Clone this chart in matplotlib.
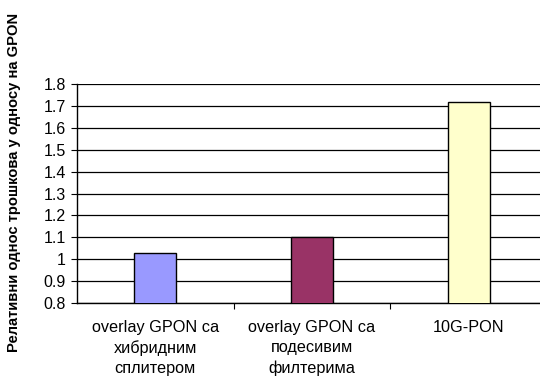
import matplotlib.pyplot as plt

plt.rcParams['font.family'] = ['Liberation Sans', 'DejaVu Sans']

categories = ["overlay GPON са\nхибридним\nсплитером",
              "overlay GPON са\nподесивим\nфилтерима",
              "10G-PON"]
values = [1.03, 1.10, 1.72]
colors = ["#9999FF", "#993366", "#FFFFCC"]
yticks = [0.8, 0.9, 1.0, 1.1, 1.2, 1.3, 1.4, 1.5, 1.6, 1.7, 1.8]
ytick_labels = ["0.8", "0.9", "1", "1.1", "1.2", "1.3", "1.4", "1.5", "1.6", "1.7", "1.8"]

W, H = 540, 385
fig = plt.figure(figsize=(W / 100, H / 100), dpi=100)
ax = fig.add_axes([77 / W, 1 - 303 / H, 470 / W, 219 / H])

x = list(range(len(categories)))
ax.bar(x, values, width=0.27, bottom=0, color=colors, edgecolor="black",
       linewidth=1.0, zorder=3)

ax.set_ylim(0.8, 1.8)
ax.set_xlim(-0.5, 2.5)
ax.set_yticks(yticks)
ax.set_yticklabels(ytick_labels, fontsize=11.5)
ax.yaxis.grid(True, color="black", linewidth=0.9, zorder=0)
ax.set_axisbelow(True)

# category ticks sit on the boundaries, labels at the centers
ax.set_xticks([0.5, 1.5], minor=False)
ax.set_xticklabels([])
ax.set_xticks(x, minor=True)
ax.set_xticklabels(categories, minor=True, fontsize=11.7, linespacing=1.4)
ax.tick_params(axis="x", which="major", length=4, direction="out", color="black")
ax.tick_params(axis="x", which="minor", length=0, pad=12.5)
ax.tick_params(axis="y", length=4, direction="out", pad=4)

for s in ("top", "right"):
    ax.spines[s].set_visible(False)
for s in ("left", "bottom"):
    ax.spines[s].set_color("black")
    ax.spines[s].set_linewidth(1.0)

fig.text(14 / W, 1 - 182 / H, "Релативни однос трошкова у односу на GPON",
         rotation=90, ha="center", va="center", fontsize=10.6, fontweight="bold")

fig.savefig("out.png", dpi=100)
plt.close(fig)
